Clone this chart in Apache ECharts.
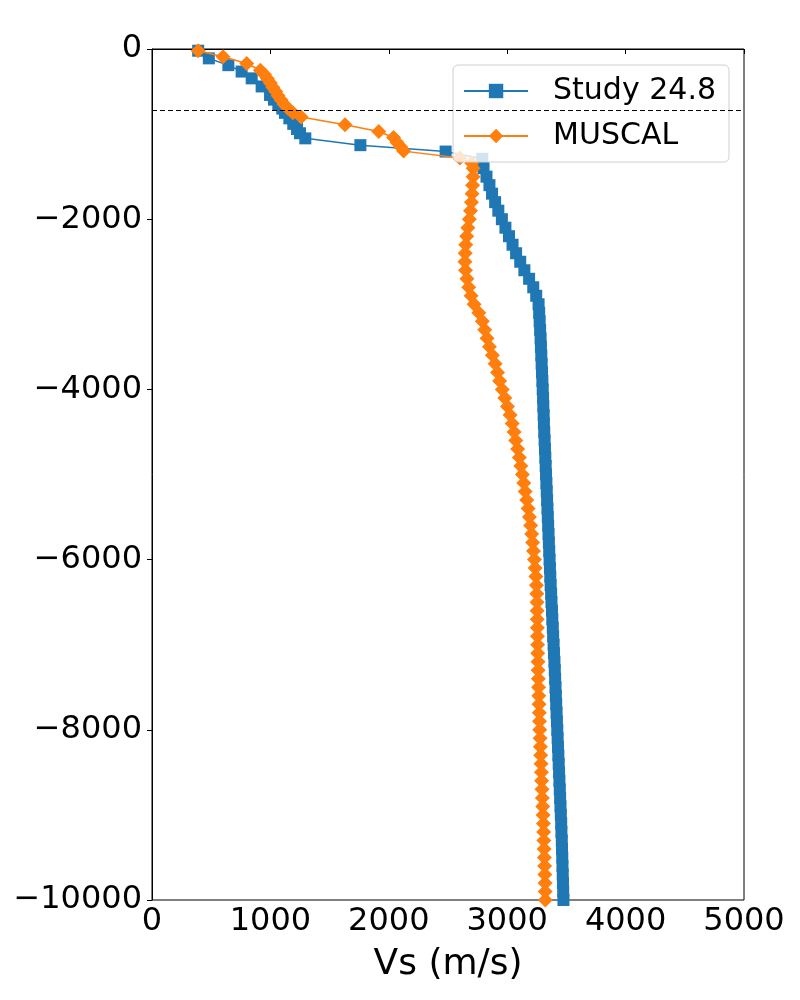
<!DOCTYPE html>
<html>
<head>
<meta charset="utf-8">
<script src="https://cdn.jsdelivr.net/npm/echarts@6/dist/echarts.min.js"></script>
<style>
  html, body { margin: 0; padding: 0; background: #fff; }
  #chart { width: 800px; height: 1000px; }
</style>
</head>
<body>
<div id="chart"></div>
<script>
// Study 24.8 (blue squares): Vs (m/s) and depth (m)
var studyVs = [390, 480, 645, 757, 842, 926, 997, 1030, 1067, 1100, 1123, 1160, 1193, 1225, 1250, 1295,
  1760, 2480, 2790,
  2800, 2825, 2850, 2872, 2898, 2925, 2955, 2985, 3015, 3045, 3075, 3110, 3145, 3185, 3220, 3245, 3265,
  3270, 3274, 3278, 3282, 3285, 3288, 3291, 3294, 3297, 3300,
  3303, 3305, 3308, 3310, 3313, 3316, 3319, 3322, 3325, 3328,
  3331, 3334, 3337, 3340, 3343, 3346, 3349, 3352, 3355, 3358,
  3361, 3364, 3367, 3371, 3374, 3378, 3381, 3385, 3388, 3392,
  3395, 3399, 3402, 3405, 3408, 3411, 3414, 3417, 3420, 3423,
  3426, 3429, 3432, 3435, 3438, 3441, 3444, 3447, 3450, 3453,
  3456, 3458, 3461, 3463, 3465, 3467, 3469, 3471, 3473, 3475];
var studyDepth = [-20, -110, -190, -265, -345, -440, -540, -595, -650, -700, -750, -815, -880, -940, -990, -1050,
  -1130, -1205, -1290,
  -1400, -1500, -1600, -1700, -1800, -1900, -2000, -2100, -2200, -2300, -2400, -2500, -2600, -2700, -2800, -2900, -3000,
  -3100, -3200, -3300, -3400, -3500, -3600, -3700, -3800, -3900, -4000,
  -4100, -4200, -4300, -4400, -4500, -4600, -4700, -4800, -4900, -5000,
  -5100, -5200, -5300, -5400, -5500, -5600, -5700, -5800, -5900, -6000,
  -6100, -6200, -6300, -6400, -6500, -6600, -6700, -6800, -6900, -7000,
  -7100, -7200, -7300, -7400, -7500, -7600, -7700, -7800, -7900, -8000,
  -8100, -8200, -8300, -8400, -8500, -8600, -8700, -8800, -8900, -9000,
  -9100, -9200, -9300, -9400, -9500, -9600, -9700, -9800, -9900, -10000];

// MUSCAL (orange diamonds)
var muscalVs = [390, 600, 800, 915, 950, 975, 1000, 1020, 1045, 1065, 1090, 1115, 1150, 1190, 1260,
  1630, 1915, 2040, 2070, 2100, 2125, 2600, 2700,
  2712, 2712, 2708, 2703, 2698, 2690, 2680, 2668, 2658, 2650, 2645, 2643, 2648, 2660, 2675, 2695, 2720,
  2760, 2790, 2810, 2830, 2850, 2875, 2898, 2918, 2936, 2958,
  2980, 3002, 3024, 3042, 3058, 3072, 3088, 3103, 3115, 3128,
  3140, 3152, 3165, 3177, 3188, 3198, 3207, 3215, 3222, 3230,
  3236, 3242, 3247, 3250, 3252, 3253, 3254, 3255, 3256, 3257,
  3258, 3260, 3261, 3263, 3265, 3267, 3269, 3271, 3273, 3275,
  3278, 3280, 3283, 3286, 3289, 3291, 3294, 3297, 3300, 3303,
  3306, 3308, 3310, 3312, 3314, 3316, 3318, 3320, 3321, 3322];
var muscalDepth = [-20, -90, -170, -250, -300, -350, -400, -450, -500, -550, -600, -650, -700, -750, -800,
  -890, -970, -1040, -1100, -1150, -1200, -1280, -1340,
  -1400, -1500, -1600, -1700, -1800, -1900, -2000, -2100, -2200, -2300, -2400, -2500, -2600, -2700, -2800, -2900, -3000,
  -3100, -3200, -3300, -3400, -3500, -3600, -3700, -3800, -3900, -4000,
  -4100, -4200, -4300, -4400, -4500, -4600, -4700, -4800, -4900, -5000,
  -5100, -5200, -5300, -5400, -5500, -5600, -5700, -5800, -5900, -6000,
  -6100, -6200, -6300, -6400, -6500, -6600, -6700, -6800, -6900, -7000,
  -7100, -7200, -7300, -7400, -7500, -7600, -7700, -7800, -7900, -8000,
  -8100, -8200, -8300, -8400, -8500, -8600, -8700, -8800, -8900, -9000,
  -9100, -9200, -9300, -9400, -9500, -9600, -9700, -9800, -9900, -10000];

var refDepth = -720;   // dashed horizontal line

function pairs(xs, ys) {
  var out = [];
  for (var i = 0; i < xs.length; i++) out.push([xs[i], ys[i]]);
  return out;
}
function minus(v) { return String(v).replace('-', '\u2212'); }

var chart = echarts.init(document.getElementById('chart'), null, { renderer: 'canvas' });
var font = 'DejaVu Sans';

var option = {
  backgroundColor: '#fff',
  animation: false,
  textStyle: { fontFamily: font },
  grid: {
    left: 152, right: 56, top: 49, bottom: 100,
    containLabel: false,
    outerBoundsMode: 'none',
    show: true, borderColor: '#000', borderWidth: 1
  },
  legend: {
    orient: 'vertical',
    right: 71, top: 65,
    padding: [9, 13, 9, 10],
    itemGap: 11,
    itemWidth: 64,
    itemHeight: 18,
    backgroundColor: 'rgba(255,255,255,0.8)',
    borderColor: '#d0d0d0',
    borderWidth: 1,
    borderRadius: 5,
    textStyle: { fontFamily: font, fontSize: 30, color: '#000', lineHeight: 34, padding: [0, 0, 0, 20] },
    data: ['Study 24.8', 'MUSCAL']
  },
  xAxis: {
    type: 'value',
    min: 0, max: 5000, interval: 1000,
    name: 'Vs (m/s)',
    nameLocation: 'middle',
    nameGap: 47,
    nameTextStyle: { fontFamily: font, fontSize: 36, color: '#000' },
    axisLine: { show: true, lineStyle: { color: '#000', width: 1 } },
    axisTick: { show: true, inside: false, length: 5, lineStyle: { color: '#000' } },
    axisLabel: { fontFamily: font, fontSize: 32, color: '#000', margin: 6, formatter: minus },
    splitLine: { show: false }
  },
  yAxis: {
    type: 'value',
    min: -10000, max: 0, interval: 2000,
    name: 'Depth (m)',
    nameLocation: 'middle',
    nameRotate: 90,
    nameGap: 152,
    nameTextStyle: { fontFamily: font, fontSize: 36, color: '#000' },
    axisLine: { show: true, lineStyle: { color: '#000', width: 1 } },
    axisTick: { show: true, inside: false, length: 5, lineStyle: { color: '#000' } },
    axisLabel: { fontFamily: font, fontSize: 32, color: '#000', margin: 10, formatter: minus },
    splitLine: { show: false }
  },
  series: [
    {
      name: 'Study 24.8',
      type: 'line',
      data: pairs(studyVs, studyDepth),
      symbol: 'rect',
      symbolSize: 12,
      showAllSymbol: true,
      itemStyle: { color: '#1f77b4' },
      lineStyle: { color: '#1f77b4', width: 1.5 },
      markLine: {
        silent: true,
        symbol: 'none',
        label: { show: false },
        lineStyle: { color: '#000', type: [5, 3], width: 1 },
        data: [{ yAxis: refDepth }]
      },
      z: 2
    },
    {
      name: 'MUSCAL',
      type: 'line',
      data: pairs(muscalVs, muscalDepth),
      symbol: 'diamond',
      symbolSize: 15,
      showAllSymbol: true,
      itemStyle: { color: '#ff7f0e' },
      lineStyle: { color: '#ff7f0e', width: 1.5 },
      z: 3
    }
  ]
};
chart.setOption(option);
</script>
</body>
</html>
